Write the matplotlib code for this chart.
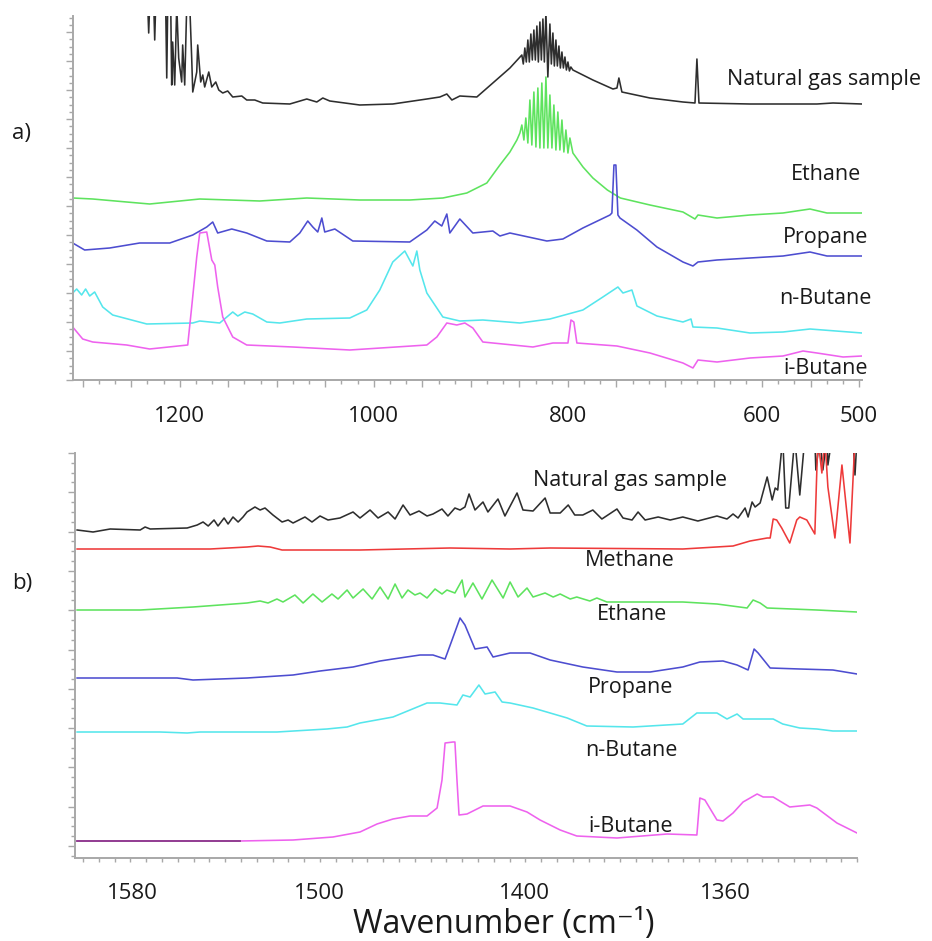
import numpy as np
import matplotlib
matplotlib.use('Agg')
import matplotlib.pyplot as plt
from matplotlib.ticker import MultipleLocator, FixedLocator, FuncFormatter, NullFormatter

plt.rcParams['font.family'] = ['Open Sans', 'DejaVu Sans']

# ---- panel a) : (wavenumber cm-1, stacked absorbance, arbitrary units)
gas_a = [
    (1233.0, 375), (1232.0, 347), (1231.0, 375), (1226.8, 375), (1225.8, 340), (1224.8, 375),
    (1214.5, 375), (1213.4, 302), (1212.4, 375), (1209.3, 375), (1208.3, 295), (1207.3, 338),
    (1205.2, 295), (1203.1, 375), (1201.1, 322), (1198.0, 298), (1197.0, 335), (1194.9, 295),
    (1192.8, 375), (1189.7, 375), (1187.7, 322), (1186.6, 288), (1182.5, 308), (1181.5, 335),
    (1178.4, 298), (1176.3, 305), (1174.3, 293), (1170.1, 308), (1167.0, 293), (1162.9, 298),
    (1159.8, 290), (1155.7, 287), (1150.6, 289), (1145.4, 283), (1136.1, 284), (1131.0, 280),
    (1122.7, 280), (1114.5, 277), (1086.6, 276), (1069.1, 281), (1058.8, 278), (1052.6, 282),
    (1045.4, 279), (1014.5, 275), (980.5, 276), (945.4, 281), (932.0, 283), (924.8, 286),
    (919.6, 280), (911.4, 284), (893.9, 283), (877.4, 297), (859.8, 312),
    (847.5, 325), (846.0, 316), (844.4, 332), (842.9, 318), (841.3, 340), (839.8, 318),
    (838.2, 346), (836.7, 320), (835.1, 350), (833.6, 320), (832.0, 354), (830.5, 318),
    (828.9, 358), (827.4, 320), (825.8, 361), (824.3, 318), (822.7, 368), (820.7, 303),
    (818.6, 356), (817.1, 316), (815.5, 347), (814.0, 314), (812.4, 340), (810.9, 314),
    (809.3, 334), (807.8, 312), (806.2, 328), (804.7, 312), (803.1, 323), (801.6, 310),
    (800.0, 318), (798.5, 309), (797.0, 313),
    (794.9, 310), (774.3, 300), (753.6, 291), (749.5, 292), (747.5, 302), (744.4, 288),
    (715.5, 282), (681.5, 278), (669.1, 277), (667.1, 321), (665.0, 277), (612.4, 276),
    (543.4, 276), (526.9, 277), (497.0, 276),
]
ethane_a = [
    (1310.3, 182), (1289.7, 181), (1254.7, 178), (1231.0, 176), (1179.4, 181), (1117.6, 179),
    (1069.1, 182), (1014.5, 180), (963.0, 180), (928.9, 182), (904.2, 187), (883.6, 197),
    (870.1, 215), (859.8, 228), (852.6, 240), (849.5, 247),
    (847.5, 255), (845.4, 240), (843.4, 262), (841.3, 237), (839.2, 280), (837.2, 235),
    (835.1, 288), (833.0, 233), (831.0, 292), (828.9, 232), (826.9, 297), (824.8, 232),
    (822.7, 303), (820.7, 232), (818.6, 285), (816.5, 232), (814.5, 275), (812.4, 230),
    (810.4, 268), (808.3, 230), (806.2, 260), (804.2, 228), (802.1, 250), (800.0, 227),
    (798.0, 242), (794.9, 227), (784.5, 213), (774.3, 202), (759.4, 190), (746.0, 182),
    (715.5, 175), (681.5, 168), (669.1, 161), (666.0, 165), (646.4, 162), (612.4, 165),
    (578.4, 167), (550.6, 171), (533.1, 167), (509.3, 167), (497.0, 167),
]
propane_a = [
    (1310.3, 137), (1298.0, 130), (1272.2, 132), (1241.3, 137), (1210.3, 137), (1186.6, 145),
    (1172.2, 153), (1166.0, 158), (1160.9, 147), (1146.4, 151), (1131.0, 147), (1110.3, 139),
    (1086.6, 138), (1076.3, 147), (1068.1, 159), (1062.9, 153), (1057.8, 148), (1053.6, 162),
    (1050.6, 148), (1040.2, 151), (1021.7, 139), (963.0, 138), (945.4, 150), (937.2, 159),
    (930.0, 154), (924.8, 166), (921.7, 147), (911.4, 161), (898.0, 147), (877.4, 149),
    (870.1, 144), (859.8, 147), (821.7, 139), (805.2, 141), (784.6, 152), (756.7, 165),
    (754.7, 167), (752.6, 215), (750.6, 215), (748.5, 165), (746.4, 162), (729.0, 150),
    (708.3, 133), (681.5, 118), (671.2, 114), (666.0, 118), (646.4, 120), (612.4, 122),
    (578.4, 124), (550.6, 128), (533.1, 124), (497.0, 124),
]
nbutane_a = [
    (1310.3, 87), (1306.2, 91), (1301.1, 85), (1297.0, 91), (1292.8, 84), (1287.7, 88),
    (1279.4, 73), (1269.1, 65), (1234.0, 56), (1186.6, 57), (1179.4, 59), (1158.8, 57),
    (1145.4, 68), (1140.2, 64), (1133.0, 68), (1124.8, 66), (1110.3, 58), (1096.9, 57),
    (1069.1, 61), (1024.8, 62), (1007.3, 70), (993.9, 90), (980.5, 118), (968.1, 129),
    (959.8, 114), (955.7, 129), (952.6, 110), (945.4, 87), (928.9, 63), (911.4, 59),
    (887.7, 60), (849.5, 57), (818.6, 61), (784.6, 70), (764.0, 83), (748.5, 93),
    (743.3, 87), (734.1, 90), (728.9, 74), (708.3, 64), (681.5, 58), (673.2, 61),
    (671.2, 53), (646.4, 52), (612.4, 47), (578.4, 48), (550.6, 51), (497.0, 47),
]
ibutane_a = [
    (1310.3, 53), (1300.0, 41), (1289.7, 38), (1254.7, 35), (1231.0, 31), (1191.8, 35),
    (1187.7, 73), (1182.5, 123), (1179.4, 147), (1172.2, 148), (1167.0, 120), (1163.9, 115),
    (1160.9, 93), (1155.7, 63), (1145.4, 43), (1131.0, 35), (1083.5, 33), (1024.8, 30),
    (945.4, 35), (935.1, 43), (924.8, 57), (914.5, 55), (906.2, 57), (898.0, 52),
    (887.7, 38), (836.1, 33), (815.5, 37), (800.0, 37), (796.9, 60), (793.9, 58),
    (790.8, 37), (749.5, 34), (715.5, 27), (681.5, 17), (671.2, 12), (666.0, 20),
    (646.4, 18), (612.4, 22), (578.4, 24), (557.8, 29), (543.4, 27), (516.5, 23), (497.0, 24),
]

# ---- panel b)
gas_b = [
    (1603.4, 328), (1596.6, 326), (1589.3, 329), (1576.5, 328), (1574.4, 331), (1572.2, 329),
    (1556.4, 330), (1552.1, 333), (1549.6, 336), (1547.4, 332), (1544.9, 338), (1543.2, 332),
    (1540.6, 340), (1538.9, 334), (1536.8, 341), (1534.6, 336), (1532.5, 341), (1530.8, 346),
    (1527.4, 351), (1525.2, 348), (1523.1, 350), (1519.7, 343), (1515.8, 336), (1513.2, 338),
    (1511.1, 335), (1506.0, 341), (1503.0, 336), (1499.5, 342), (1495.6, 338), (1489.8, 340),
    (1483.4, 346), (1480.0, 340), (1475.1, 348), (1471.2, 340), (1466.3, 346), (1462.9, 339),
    (1459.0, 353), (1455.6, 343), (1451.2, 347), (1447.3, 342), (1444.4, 344), (1440.0, 349),
    (1437.1, 342), (1433.7, 350), (1431.2, 348), (1428.8, 351), (1426.8, 364), (1423.9, 348),
    (1420.0, 356), (1417.6, 346), (1412.7, 359), (1409.3, 342), (1403.4, 365), (1400.5, 348),
    (1398.2, 347), (1395.8, 360), (1394.8, 345), (1392.8, 345), (1391.2, 353), (1389.9, 343),
    (1388.3, 343), (1386.3, 348), (1384.5, 339), (1381.5, 349), (1380.3, 340), (1378.5, 338),
    (1377.3, 346), (1375.9, 338), (1373.3, 341), (1370.9, 338), (1368.4, 341), (1365.4, 337),
    (1361.6, 342), (1359.6, 339), (1358.4, 344), (1357.4, 340), (1356.0, 350), (1355.4, 341),
    (1354.6, 356), (1354.0, 351), (1353.0, 355), (1351.6, 381), (1350.6, 358), (1350.0, 370),
    (1349.5, 368), (1348.5, 420), (1347.9, 350), (1347.3, 350), (1346.1, 420), (1345.1, 363),
    (1344.1, 420), (1342.1, 420), (1341.9, 388), (1341.1, 420), (1340.5, 388), (1339.7, 420),
    (1339.5, 393), (1338.7, 420), (1334.5, 420), (1334.1, 383), (1333.7, 420),
]
methane_b = [
    (1603.4, 309), (1546.6, 309), (1530.8, 311), (1526.1, 312), (1520.9, 311), (1515.8, 308),
    (1480.0, 308), (1436.1, 310), (1406.8, 309), (1394.8, 310), (1368.4, 309), (1358.4, 312),
    (1355.0, 317), (1351.6, 320), (1351.0, 320), (1350.4, 339), (1349.7, 338), (1348.7, 330),
    (1347.1, 315), (1345.7, 338), (1345.1, 341), (1343.7, 338), (1342.1, 324), (1341.5, 420),
    (1340.7, 385), (1340.1, 420), (1339.5, 371), (1338.1, 320), (1336.7, 393), (1335.1, 315),
    (1334.1, 420),
]
ethane_b = [
    (1603.4, 248), (1576.5, 248), (1553.9, 251), (1530.8, 255), (1525.2, 257), (1521.8, 255),
    (1518.0, 259), (1515.4, 256), (1510.3, 263), (1506.8, 255), (1502.6, 264), (1498.5, 256),
    (1493.7, 264), (1490.7, 259), (1486.3, 268), (1483.4, 260), (1478.5, 269), (1474.1, 259),
    (1470.2, 271), (1466.3, 259), (1462.9, 274), (1459.5, 260), (1456.6, 268), (1453.2, 263),
    (1450.7, 265), (1447.3, 260), (1443.4, 269), (1440.0, 264), (1437.6, 268), (1433.7, 265),
    (1430.2, 278), (1428.8, 261), (1424.9, 275), (1420.5, 259), (1415.6, 278), (1410.2, 260),
    (1406.8, 276), (1402.9, 261), (1399.4, 270), (1398.2, 261), (1395.8, 265), (1394.2, 261),
    (1392.8, 264), (1390.8, 259), (1389.5, 261), (1386.9, 257), (1385.5, 260), (1383.5, 256),
    (1374.9, 256), (1368.4, 256), (1361.6, 254), (1355.6, 250), (1354.4, 258), (1353.0, 255),
    (1351.6, 250), (1341.7, 248), (1333.7, 246),
]
propane_b = [
    (1603.4, 180), (1560.7, 180), (1553.9, 178), (1530.8, 180), (1511.1, 183), (1499.5, 187),
    (1483.4, 191), (1470.2, 197), (1463.9, 199), (1450.7, 203), (1444.4, 203), (1438.5, 199),
    (1435.1, 218), (1431.2, 240), (1428.8, 233), (1423.9, 209), (1418.0, 211), (1415.1, 201),
    (1406.8, 205), (1398.8, 205), (1394.8, 198), (1388.3, 191), (1381.5, 186), (1374.9, 186),
    (1368.4, 191), (1365.0, 196), (1360.4, 197), (1357.6, 193), (1355.4, 188), (1354.2, 209),
    (1353.4, 205), (1351.0, 190), (1345.1, 189), (1338.5, 188), (1333.7, 184),
]
nbutane_b = [
    (1603.4, 126), (1568.0, 126), (1556.4, 125), (1550.9, 126), (1518.0, 126), (1496.1, 129),
    (1486.3, 131), (1480.0, 135), (1463.9, 141), (1455.6, 148), (1447.3, 155), (1441.0, 155),
    (1432.7, 153), (1429.8, 163), (1426.3, 161), (1422.0, 173), (1419.0, 164), (1414.1, 166),
    (1410.7, 156), (1406.8, 155), (1398.2, 150), (1391.4, 140), (1387.5, 132), (1378.3, 131),
    (1368.4, 134), (1365.6, 145), (1361.6, 145), (1359.6, 139), (1357.6, 144), (1356.4, 139),
    (1350.4, 139), (1348.5, 134), (1345.1, 130), (1341.7, 129), (1338.5, 127), (1333.7, 127),
]
ibutane_b = [
    (1603.4, 17), (1533.8, 17), (1511.1, 18), (1493.2, 21), (1480.0, 26), (1471.7, 34),
    (1463.9, 39), (1455.6, 42), (1447.3, 42), (1442.4, 50), (1440.0, 78), (1438.5, 115),
    (1434.6, 116), (1433.7, 116), (1432.7, 78), (1431.7, 43), (1427.8, 44), (1420.0, 52),
    (1406.8, 52), (1399.4, 46), (1396.8, 38), (1392.8, 28), (1389.5, 22), (1381.5, 20),
    (1371.5, 24), (1365.6, 23), (1365.0, 60), (1364.0, 58), (1361.6, 38), (1360.4, 37),
    (1358.4, 45), (1356.4, 56), (1353.6, 64), (1352.4, 61), (1350.4, 61), (1347.1, 51),
    (1343.1, 53), (1341.7, 50), (1337.7, 35), (1333.7, 25),
]

ticks_a = [1200, 1000, 800, 600, 500]
ticks_b = [1580, 1500, 1400, 1360]

BLACK = '#2e2e2e'
RED = '#ee3a3a'
GREEN = '#5ee35e'
BLUE = '#4d4dd0'
CYAN = '#55e6ec'
MAGENTA = '#ee62ee'
AXIS = '#a8a8a8'

series_a = [(gas_a, BLACK), (ethane_a, GREEN), (propane_a, BLUE),
            (nbutane_a, CYAN), (ibutane_a, MAGENTA)]
series_b = [(gas_b, BLACK), (methane_b, RED), (ethane_b, GREEN),
            (propane_b, BLUE), (nbutane_b, CYAN), (ibutane_b, MAGENTA)]

labels_a = [('Natural gas sample', 727, 80), ('Ethane', 791, 175), ('Propane', 783, 237),
            ('n-Butane', 779, 299), ('i-Butane', 783, 368)]
labels_b = [('Natural gas sample', 533, 480), ('Methane', 585, 560), ('Ethane', 597, 615),
            ('Propane', 588, 687), ('n-Butane', 585, 750), ('i-Butane', 588, 827)]

# panel b axis is not uniform in wavenumber: piecewise map (increasing with wavenumber)
WN_B = np.array([1333.7, 1360, 1400, 1500, 1580, 1604.3])
POS_B = -np.array([857, 725, 524, 319, 132, 75])


def fwd_b(x):
    return np.interp(x, WN_B, POS_B)


def inv_b(p):
    return np.interp(p, POS_B, WN_B)


W, H = 932, 941
fig = plt.figure(figsize=(W / 100, H / 100), dpi=100)
ax_a = fig.add_axes([73 / W, 1 - 380 / H, 789 / W, 364 / H])
ax_b = fig.add_axes([75 / W, 1 - 858 / H, 782 / W, 405 / H])


def style(ax):
    for s in ['top', 'right']:
        ax.spines[s].set_visible(False)
    for s in ['left', 'bottom']:
        ax.spines[s].set_color(AXIS)
        ax.spines[s].set_linewidth(1.4)
    ax.tick_params(which='both', direction='out', color=AXIS, width=1.0)
    ax.tick_params(which='major', length=5)
    ax.tick_params(which='minor', length=3)
    ax.tick_params(axis='x', labelsize=16, pad=14, labelcolor='#1a1a1a')
    ax.yaxis.set_major_formatter(NullFormatter())


for data, col in series_a:
    x, y = np.array(data).T
    ax_a.plot(x, y, color=col, lw=1.15)
ax_a.set_xlim(1310, 497)
ax_a.set_ylim(0, 364)
style(ax_a)
ax_a.xaxis.set_major_locator(MultipleLocator(50))
ax_a.xaxis.set_minor_locator(MultipleLocator(50 / 3))
ax_a.xaxis.set_major_formatter(FuncFormatter(
    lambda v, p: f'{v:.0f}' if int(round(v)) in ticks_a else ''))
ax_a.yaxis.set_major_locator(MultipleLocator(29))
ax_a.yaxis.set_minor_locator(MultipleLocator(7.25))

ax_b.set_xscale('function', functions=(fwd_b, inv_b))
for data, col in series_b:
    x, y = np.array(data).T
    ax_b.plot(x, y, color=col, lw=1.15)
# darker overlap at the start of the i-Butane trace
ib = np.array(ibutane_b).T
ax_b.plot(ib[0][:2], ib[1][:2], color='#8a3a8a', lw=1.3)
ax_b.set_xlim(1604.3, 1333.7)
ax_b.set_ylim(0, 405)
style(ax_b)
ax_b.xaxis.set_major_locator(FixedLocator(ticks_b))
ax_b.xaxis.set_major_formatter(FuncFormatter(lambda v, p: f'{v:.0f}'))
ax_b.tick_params(axis='x', which='major', length=0, pad=18)
ax_b.xaxis.set_minor_locator(FixedLocator(inv_b(-np.arange(83, 858, 15.8))))
ax_b.yaxis.set_major_locator(MultipleLocator(39.3, offset=12))
ax_b.yaxis.set_minor_locator(MultipleLocator(9.825, offset=12))

for txt, px, py in labels_a + labels_b:
    fig.text(px / W, 1 - py / H, txt, fontsize=15.5, ha='left', va='center', color='#1a1a1a')

fig.text(12 / W, 1 - 133 / H, 'a)', fontsize=16, ha='left', va='center', color='#1a1a1a')
fig.text(12 / W, 1 - 583 / H, 'b)', fontsize=16, ha='left', va='center', color='#1a1a1a')
fig.text(504 / W, 1 - 925 / H, 'Wavenumber (cm\u207b\u00b9)', fontsize=23,
         ha='center', va='center', color='#1a1a1a')

fig.savefig('out.png', dpi=100)
